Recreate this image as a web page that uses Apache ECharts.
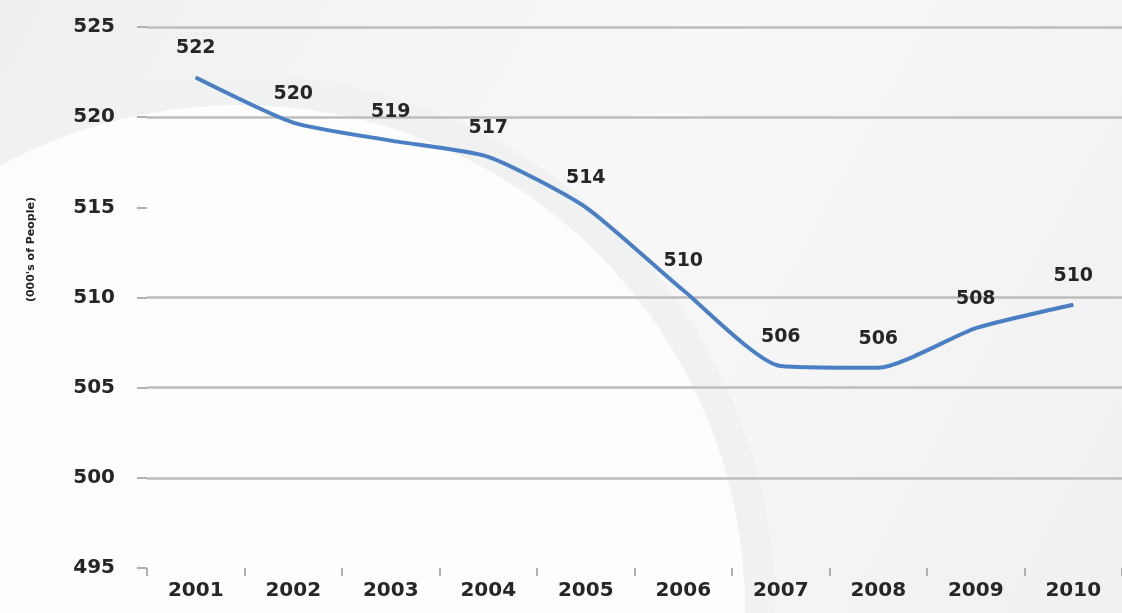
<!DOCTYPE html>
<html>
<head>
<meta charset="utf-8">
<script src="https://cdn.jsdelivr.net/npm/echarts@6/dist/echarts.min.js"></script>
<style>
  html, body { margin: 0; padding: 0; }
  #main { width: 1122px; height: 613px; }
</style>
</head>
<body>
<div id="main"></div>
<script>
// data
const years = ['2001', '2002', '2003', '2004', '2005', '2006', '2007', '2008', '2009', '2010']
const people = [522.2, 519.7, 518.7, 517.8, 515.0, 510.4, 506.2, 506.1, 508.3, 509.6]
const pointLabels = ['522', '520', '519', '517', '514', '510', '506', '506', '508', '510']
const yTicks = { min: 495, max: 525, step: 5 }
const yTickLabels = { 495: '495', 500: '500', 505: '505', 510: '510', 515: '515', 520: '520', 525: '525' }

let myChart = echarts.init(document.getElementById('main'))

const font = 'DejaVu Sans'
const gridCol = '#bdbdbd'

let option = {
  backgroundColor: {
    type: 'linear', x: 0, y: 0, x2: 1, y2: 1,
    colorStops: [
      { offset: 0, color: '#eeefef' },
      { offset: 0.5, color: '#f8f8f8' },
      { offset: 1, color: '#f0f0f1' },
    ],
  },
  graphic: [
    // faint compass watermark
    {
      type: 'circle', z: -10, silent: true,
      shape: { cx: 240, cy: 610, r: 520 },
      style: { fill: '#fdfdfd', stroke: '#f0f1f1', lineWidth: 30 },
    },
    {
      type: 'text', left: 26, top: 197,
      rotation: Math.PI / 2,
      style: {
        text: "(000's of People)",
        font: 'bold 11px "DejaVu Sans"',
        fill: '#222',
      },
    },
  ],
  grid: {
    left: 147,
    right: 0,
    top: 27,
    bottom: 45,
    containLabel: false,
  },
  xAxis: {
    type: 'category',
    data: years,
    boundaryGap: true,
    axisLine: { show: false },
    axisTick: { show: true, length: 8, lineStyle: { color: '#b0b0b0', width: 2 } },
    axisLabel: {
      margin: 13,
      fontFamily: font,
      fontWeight: 'bold',
      fontSize: 20,
      color: '#262626',
    },
  },
  yAxis: {
    type: 'value',
    min: yTicks.min,
    max: yTicks.max,
    interval: yTicks.step,
    axisLine: { show: false },
    axisTick: { show: true, length: 10, lineStyle: { color: '#b0b0b0', width: 2 } },
    axisLabel: {
      margin: 32,
      fontFamily: font,
      fontWeight: 'bold',
      fontSize: 20,
      color: '#262626',
      formatter: (v) => yTickLabels[v],
    },
    splitLine: {
      show: true,
      lineStyle: {
        color: ['transparent', gridCol, gridCol, gridCol, 'transparent', gridCol, gridCol],
        width: 2.5,
      },
    },
  },
  series: [
    {
      name: "000's of People",
      type: 'line',
      data: people,
      smooth: 0.2,
      symbol: 'circle',
      symbolSize: 1,
      showSymbol: true,
      itemStyle: { color: '#4a7fc4' },
      lineStyle: { color: '#4a7fc4', width: 4 },
      label: {
        show: true,
        position: 'top',
        distance: 19,
        fontFamily: font,
        fontWeight: 'bold',
        fontSize: 19,
        color: '#262626',
        formatter: (p) => pointLabels[p.dataIndex],
      },
    },
  ],
}
myChart.setOption(option)
</script>
</body>
</html>
